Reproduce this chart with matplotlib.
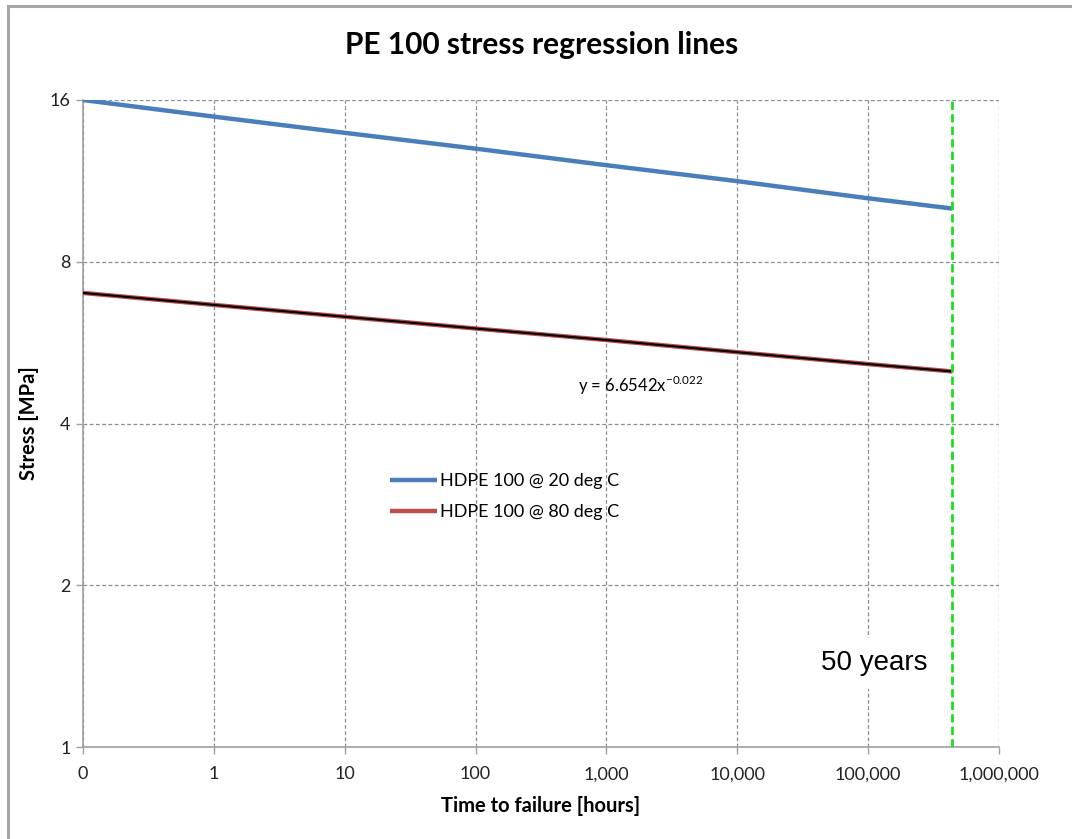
import matplotlib
matplotlib.use("Agg")
import matplotlib.pyplot as plt
from matplotlib.patches import Rectangle
from matplotlib.ticker import FixedLocator, NullLocator

# ---- data ----
hours = [0.1, 1, 10, 100, 1000, 10000, 100000, 438000]
stress_20 = [16.0, 14.9, 13.9, 12.99, 12.1, 11.3, 10.5, 10.05]
stress_80 = [7.0, 6.65, 6.32, 6.01, 5.72, 5.43, 5.16, 5.0]
fifty_years_h = 438000
x_ticks = [0.1, 1, 10, 100, 1000, 10000, 100000, 1000000]
x_labels = ["0", "1", "10", "100", "1,000", "10,000", "100,000", "1,000,000"]
y_ticks = [1, 2, 4, 8, 16]
y_labels = ["1", "2", "4", "8", "16"]
series_names = ["HDPE 100 @ 20 deg C", "HDPE 100 @ 80 deg C"]

plt.rcParams['font.family'] = ['Lato', 'DejaVu Sans']

fig = plt.figure(figsize=(10.72, 8.39), dpi=100)
W, H = 1072, 839
ax = fig.add_axes([83 / W, 1 - 747 / H, (999 - 83) / W, (747 - 100) / H])

# outer border
fig.patches.append(Rectangle((8 / W, -0.05), 1.1, 1 - 6 / H + 0.05,
                             transform=fig.transFigure, fill=False,
                             edgecolor="#A6A6A6", linewidth=2.2, zorder=0))

ax.set_xscale('log')
ax.set_yscale('log')
ax.set_xlim(0.1, 1e6)
ax.set_ylim(1, 16)

ax.plot(hours, stress_20, color="#4A7EBB", linewidth=3.2, label=series_names[0],
        solid_capstyle='butt', zorder=3)
ax.plot(hours, stress_80, color="#BE4B48", linewidth=3.2, label=series_names[1],
        solid_capstyle='butt', zorder=3)
ax.plot(hours, stress_80, color="black", linewidth=1.5, zorder=4)

ax.axvline(fifty_years_h, color="#22DD22", linestyle=(0, (3, 1.5)), linewidth=2, zorder=5)

ax.xaxis.set_major_locator(FixedLocator(x_ticks))
ax.xaxis.set_minor_locator(NullLocator())
ax.set_xticklabels(x_labels)
ax.yaxis.set_major_locator(FixedLocator(y_ticks))
ax.yaxis.set_minor_locator(NullLocator())
ax.set_yticklabels(y_labels)

ax.grid(True, which='major', color="#8C8C8C", linestyle=(0, (3, 2)), linewidth=0.9)
ax.set_axisbelow(True)
for s in ['top', 'right']:
    ax.spines[s].set_visible(False)
for s in ['left', 'bottom']:
    ax.spines[s].set_color("#A0A0A0")
    ax.spines[s].set_linewidth(1.2)
ax.tick_params(axis='both', which='major', direction='out', length=5, width=1,
               color="#A0A0A0", labelsize=13, labelcolor="#222222")
ax.tick_params(axis='x', pad=9)
ax.tick_params(axis='y', pad=4)

ax.set_xlabel("Time to failure [hours]", fontsize=14.5, fontweight='bold', labelpad=10)
ax.set_ylabel("Stress [MPa]", fontsize=14.5, fontweight='bold', labelpad=8)
fig.text(542 / W, 1 - 45 / H, "PE 100 stress regression lines", fontsize=21.5,
         fontweight='bold', ha='center', va='center')

eq = ax.text(578 / 100, (H - 385) / 100, "y = 6.6542x$^{\\mathregular{-0.022}}$",
             transform=fig.dpi_scale_trans, fontsize=12, ha='left', va='center')

ax.text(874 / W, 1 - 663 / H, "50 years", transform=fig.transFigure, fontsize=20,
        family=['Liberation Sans', 'DejaVu Sans'], ha='center', va='center',
        bbox=dict(facecolor='white', edgecolor='none', pad=9), zorder=6)

leg = ax.legend(loc='upper left', bbox_to_anchor=((390 - 83) / (999 - 83), (747 - 473) / (747 - 100)),
                frameon=False, fontsize=13, handlelength=2.6, handletextpad=0.15,
                labelspacing=0.85, borderpad=0, borderaxespad=0)

fig.savefig("out.png", dpi=100)
